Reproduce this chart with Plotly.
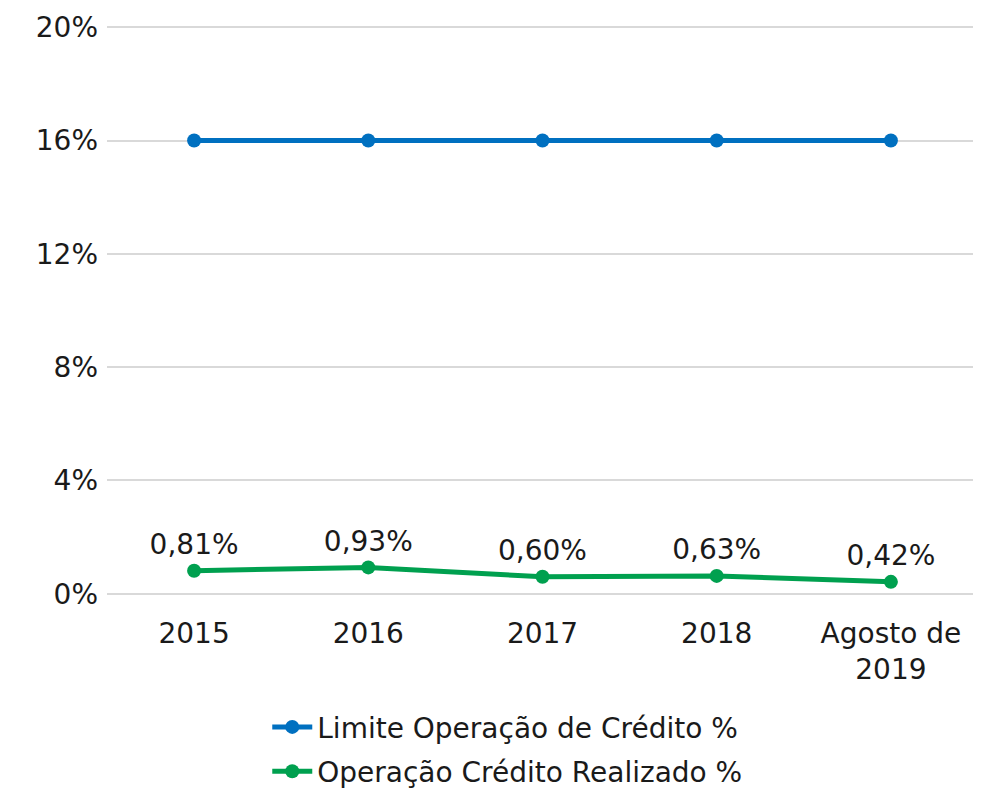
import plotly.graph_objects as go

categories = ["2015", "2016", "2017", "2018", "Agosto de<br>2019"]
limite = [16, 16, 16, 16, 16]
realizado = [0.81, 0.93, 0.60, 0.63, 0.42]
realizado_labels = ["0,81%", "0,93%", "0,60%", "0,63%", "0,42%"]
y_ticks = [0, 4, 8, 12, 16, 20]
y_tick_labels = ["0%", "4%", "8%", "12%", "16%", "20%"]

FONT = "DejaVu Sans"
FS = 28
fig = go.Figure()
fig.add_trace(go.Scatter(
    x=categories, y=limite, name="Limite Operação de Crédito %",
    legendgroup="a",
    mode="lines+markers",
    line=dict(color="#0070C0", width=5),
    marker=dict(color="#0070C0", size=14),
))
fig.add_trace(go.Scatter(
    x=categories, y=realizado, name="Operação Crédito Realizado %",
    legendgroup="b",
    mode="lines+markers+text",
    text=realizado_labels, textposition="top center",
    textfont=dict(size=FS, color="#1a1a1a", family=FONT),
    line=dict(color="#00A04F", width=5),
    marker=dict(color="#00A04F", size=14),
))
# page body has an 8px default margin: shrink figure so it fits the window
fig.update_layout(
    width=973, height=785,
    margin=dict(l=99, r=3, t=17, b=197, autoexpand=False),
    paper_bgcolor="white", plot_bgcolor="white",
    font=dict(family=FONT, size=FS, color="#1a1a1a"),
    showlegend=True,
    legend=dict(orientation="v", x=0.184, xanchor="left", y=-0.186, yanchor="top",
                font=dict(size=FS), itemwidth=40, tracegroupgap=5),
    xaxis=dict(type="category", range=[-0.5, 4.5], showgrid=False, showline=False,
               zeroline=False, ticks="", ticklabelstandoff=18, tickfont=dict(size=FS)),
    yaxis=dict(range=[-0.08, 20.08], tickvals=y_ticks, ticktext=y_tick_labels,
               showgrid=True, gridcolor="#D9D9D9", gridwidth=2,
               zeroline=False, showline=False, ticks="", ticklabelstandoff=8,
               tickfont=dict(size=FS)),
)
fig.write_html("out.html")
